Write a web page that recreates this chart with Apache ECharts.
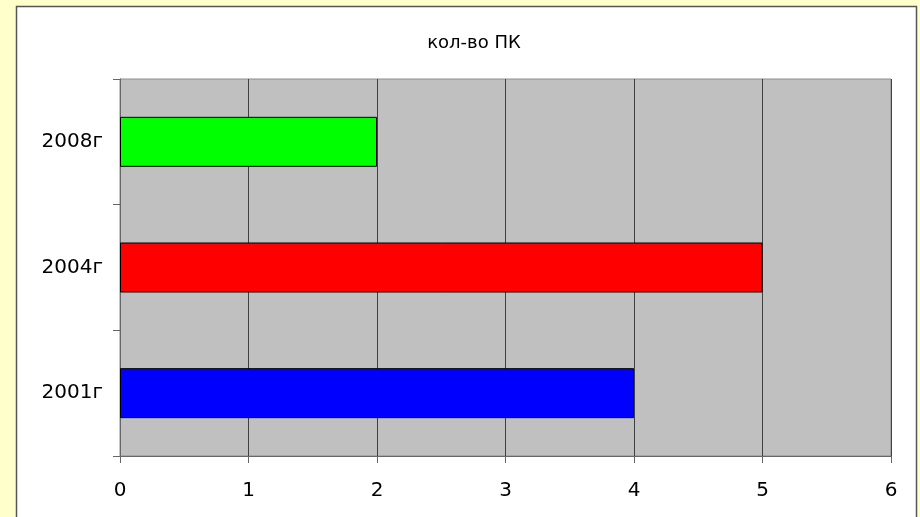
<!DOCTYPE html>
<html>
<head>
<meta charset="utf-8">
<script src="https://cdn.jsdelivr.net/npm/echarts@6/dist/echarts.min.js"></script>
<style>
  html, body { margin: 0; padding: 0; background: #ffffcc; }
  #chart { width: 920px; height: 517px; }
</style>
</head>
<body>
<div id="chart"></div>
<script>
var years = ['2001г', '2004г', '2008г'];
var pcCount = [4, 5, 2];
var barColors = ['#0000ff', '#ff0000', '#00ff00'];
var xTicks = [0, 1, 2, 3, 4, 5, 6];

var chart = echarts.init(document.getElementById('chart'));
chart.setOption({
  backgroundColor: '#ffffcc',
  animation: false,
  textStyle: { fontFamily: 'DejaVu Sans' },
  graphic: [{
    type: 'rect',
    z: -10,
    shape: { x: 16.5, y: 6.5, width: 900, height: 530 },
    style: { fill: '#ffffff', stroke: '#555555', lineWidth: 1.5 }
  }],
  title: {
    text: 'кол-во ПК',
    left: 469,
    top: 29,
    textAlign: 'center',
    textStyle: { fontSize: 18, fontWeight: 'normal', color: '#000', fontFamily: 'DejaVu Sans' }
  },
  grid: {
    left: 120,
    top: 79,
    width: 771,
    height: 377,
    show: true,
    backgroundColor: '#c0c0c0',
    borderColor: '#8c8c8c',
    borderWidth: 1
  },
  xAxis: {
    type: 'value',
    min: xTicks[0],
    max: xTicks[xTicks.length - 1],
    interval: 1,
    axisLine: { show: true, lineStyle: { color: '#666', width: 1 } },
    axisTick: { show: true, length: 7, lineStyle: { color: '#666' } },
    axisLabel: { fontSize: 20, color: '#000', margin: 25 },
    splitLine: { show: true, lineStyle: { color: '#404040', width: 1 } }
  },
  yAxis: {
    type: 'category',
    data: years,
    axisLine: { show: true, lineStyle: { color: '#666', width: 1 } },
    axisTick: { show: true, length: 7, alignWithLabel: false, lineStyle: { color: '#666' } },
    axisLabel: { fontSize: 20, color: '#000', margin: 17 },
    splitLine: { show: false }
  },
  series: [{
    type: 'bar',
    data: pcCount.map(function (v, i) {
      return { value: v, itemStyle: { color: barColors[i] } };
    }),
    barWidth: 50,
    itemStyle: { borderColor: '#000', borderWidth: 1 }
  }]
});
</script>
</body>
</html>
